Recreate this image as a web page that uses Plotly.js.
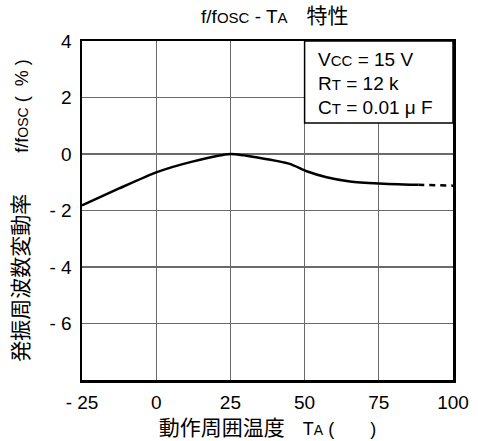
<!DOCTYPE html>
<html><head><meta charset="utf-8">
<script src="https://cdn.plot.ly/plotly-3.0.1.min.js"></script>
<style>html,body{margin:0;padding:0;background:#fff}</style>
</head><body>
<div id="chart" style="width:478px;height:441px"></div>
<script>
const tempSolid = [-25, -12.5, 0, 12.5, 25, 35, 45, 50.7, 57.4, 65.3, 75, 88.3];
const devSolid  = [-1.82, -1.22, -0.65, -0.26, 0, -0.14, -0.35, -0.61, -0.82, -0.97, -1.04, -1.09];
const tempDash = [88.3, 100];
const devDash  = [-1.09, -1.12];
const xTickVals = [-25, 0, 25, 50, 75, 100];
const xTickText = ['- 25', '0', '25', '50', '75', '100'];
const yTickVals = [4, 2, 0, -2, -4, -6];
const yTickText = ['4', '2', '0', '- 2', '- 4', '- 6'];
const condLines = ['V<span style="font-size:15px">CC</span> = 15 V', 'R<span style="font-size:15px">T</span> = 12 k', 'C<span style="font-size:15px">T</span> = 0.01 μ F'];
const condY = [3.36, 2.48, 1.63];

const font = "Liberation Sans, Arial, Noto Sans CJK JP, sans-serif";
const cjk = (t, s) => '<span style="font-family:Noto Sans CJK JP;font-size:' + s + 'px">' + t + '</span>';
const sm = t => '<span style="font-size:14px">' + t + '</span>';
const traces = [
  {x: tempSolid, y: devSolid, mode: 'lines', line: {color: '#000', width: 2.5, shape: 'spline', smoothing: 0.6}, hoverinfo: 'skip'},
  {x: tempDash, y: devDash, mode: 'lines', line: {color: '#000', width: 2.5, dash: '6px,5px'}, hoverinfo: 'skip'}
];
const axisCommon = {showgrid: true, gridcolor: '#6a6a6a', gridwidth: 1.2, showline: true, linecolor: '#000', linewidth: 2.5,
  mirror: true, zeroline: false, ticks: 'outside', ticklen: 4, tickcolor: 'rgba(0,0,0,0)',
  tickfont: {family: font, size: 19, color: '#000'}};
const layout = {
  width: 478, height: 441,
  margin: {l: 82, r: 25, t: 41, b: 61},
  showlegend: false,
  paper_bgcolor: '#fff', plot_bgcolor: '#fff',
  font: {family: font, color: '#000', size: 18},
  title: {text: 'f/f<span style="font-size:15px">OSC</span> - T<span style="font-size:15px">A</span>　' + cjk('特性', 21), x: 0.575, xanchor: 'center', y: 0.962, yanchor: 'middle', font: {size: 19}},
  xaxis: Object.assign({range: [-25, 100], tickvals: xTickVals, ticktext: xTickText,
          title: {text: cjk('動作周囲温度', 21) + '　T' + sm('A') + ' (　　)', standoff: 8, font: {size: 18}}}, axisCommon),
  yaxis: Object.assign({range: [-8, 4], tickvals: yTickVals, ticktext: yTickText,
          title: {text: cjk('発振周波数変動率', 21) + '　　 f/f' + sm('OSC') + ' (  % )　　', standoff: 16, font: {size: 18}}}, axisCommon),
  shapes: [
    {type: 'rect', xref: 'x', yref: 'y', x0: 50, x1: 100, y0: 1.1, y1: 4, fillcolor: '#fff', line: {color: '#000', width: 1.5}, layer: 'above'}
  ],
  annotations: condLines.map((t, i) => ({x: 54, y: condY[i], xref: 'x', yref: 'y', text: t, showarrow: false, xanchor: 'left', yanchor: 'middle', font: {size: 19}}))
};
Plotly.newPlot('chart', traces, layout, {displayModeBar: false, staticPlot: true});
</script>
</body></html>
